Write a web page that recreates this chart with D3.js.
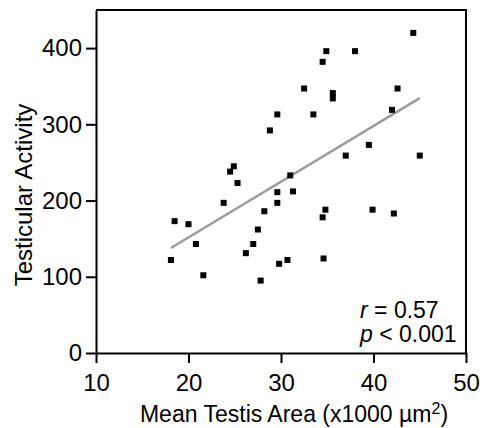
<!DOCTYPE html>
<html>
<head>
<meta charset="utf-8">
<script src="https://cdn.jsdelivr.net/npm/d3@7"></script>
<style>
  body { margin: 0; background: #fff; }
  #chart text { font-family: "Liberation Sans", Arial, sans-serif; fill: #000; }
</style>
</head>
<body>
<div id="chart"></div>
<script>
// Mean testis area (x1000 um2) and testicular activity
var areaValues = [18.1, 18.5, 20.0, 20.8, 21.6, 23.8, 24.5, 24.9, 25.3, 26.2,
  27.0, 27.5, 27.8, 28.2, 28.8, 29.6, 29.6, 29.6, 29.8, 30.7,
  31.0, 31.3, 32.5, 33.5, 34.5, 34.9, 34.5, 34.8, 34.6, 35.6,
  35.6, 37.0, 38.0, 39.5, 39.9, 42.0, 42.2, 42.6, 44.3, 45.0];
var activityValues = [122, 173, 169, 143, 102, 197, 238, 245, 223, 131,
  143, 162, 95, 186, 292, 313, 211, 197, 117, 122,
  233, 212, 347, 313, 382, 396, 178, 188, 124, 341,
  334, 259, 396, 273, 188, 319, 183, 347, 420, 259];

// regression line end points
var fitX = [18.1, 45.0];
var fitY = [137.7, 334.4];

var xTicks = [10, 20, 30, 40, 50];
var yTicks = [0, 100, 200, 300, 400];
var statLines = [['r', ' = 0.57'], ['p', ' < 0.001']];

var points = areaValues.map(function (a, i) { return { x: a, y: activityValues[i] }; });

var margin = { top: 10, right: 14, bottom: 75, left: 96 };
var width = 480 - margin.left - margin.right;
var height = 428 - margin.top - margin.bottom;

var svg = d3.select('#chart').append('svg')
  .attr('width', 480)
  .attr('height', 428);

var g = svg.append('g')
  .attr('transform', 'translate(' + margin.left + ',' + margin.top + ')');

var x = d3.scaleLinear().domain([10, 50]).range([0, width]);
var y = d3.scaleLinear().domain([0, 450]).range([height, 0]);

// frame on top and right
g.append('path')
  .attr('d', 'M0,' + y(450) + 'H' + x(50) + 'V' + y(0))
  .attr('fill', 'none')
  .attr('stroke', '#000')
  .attr('stroke-width', 2);

var xAxis = g.append('g')
  .attr('transform', 'translate(0,' + height + ')')
  .call(d3.axisBottom(x).tickValues(xTicks).tickSize(10).tickSizeOuter(0).tickPadding(11));

var yAxis = g.append('g')
  .call(d3.axisLeft(y).tickValues(yTicks).tickSize(10).tickSizeOuter(0).tickPadding(4));

[xAxis, yAxis].forEach(function (ax) {
  ax.selectAll('path, line').attr('stroke', '#000').attr('stroke-width', 2);
  ax.selectAll('text').style('font-size', '24px');
});

// regression line
g.append('line')
  .attr('x1', x(fitX[0]))
  .attr('y1', y(fitY[0]))
  .attr('x2', x(fitX[1]))
  .attr('y2', y(fitY[1]))
  .attr('stroke', '#9c9c9c')
  .attr('stroke-width', 2.5);

// data points
var s = 6;
g.selectAll('rect.pt')
    .data(points)
    .enter()
  .append('rect')
    .attr('class', 'pt')
    .attr('x', function (d) { return x(d.x) - s / 2; })
    .attr('y', function (d) { return y(d.y) - s / 2; })
    .attr('width', s)
    .attr('height', s)
    .attr('fill', '#000');

// stats
var stats = g.append('text')
  .attr('x', 264)
  .attr('y', 308)
  .style('font-size', '23px');

statLines.forEach(function (l, i) {
  stats.append('tspan')
    .attr('x', 264)
    .attr('dy', i === 0 ? 0 : 24)
    .style('font-style', 'italic')
    .text(l[0]);
  stats.append('tspan').text(l[1]);
});

// axis titles
var xt = svg.append('text')
  .attr('x', 294)
  .attr('y', 422)
  .attr('text-anchor', 'middle')
  .style('font-size', '23px');
xt.append('tspan').text('Mean Testis Area (x1000 \u00b5m');
xt.append('tspan').attr('dy', -8).style('font-size', '16px').text('2');
xt.append('tspan').attr('dy', 8).text(')');

svg.append('text')
  .attr('transform', 'translate(32,195) rotate(-90)')
  .attr('text-anchor', 'middle')
  .style('font-size', '24px')
  .text('Testicular Activity');
</script>
</body>
</html>
